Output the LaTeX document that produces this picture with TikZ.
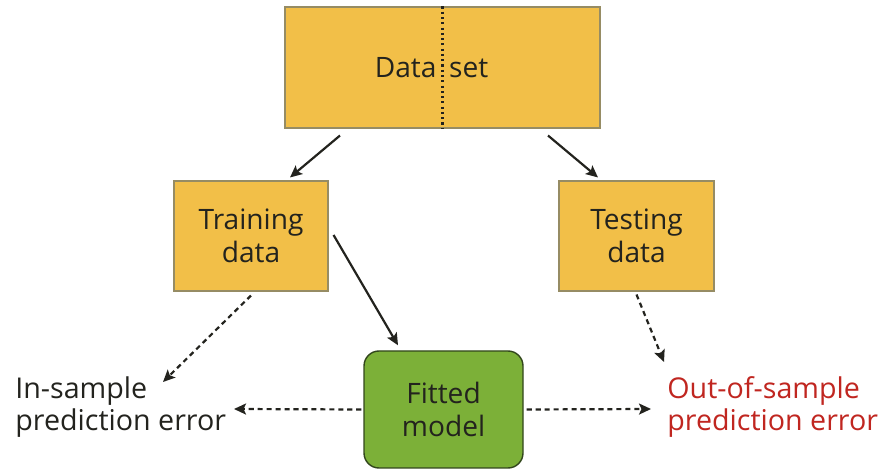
\documentclass[tikz,border=0pt]{standalone}
\usepackage{fontspec}
\setmainfont{Open Sans}
\usetikzlibrary{arrows.meta}
\definecolor{boxyellow}{RGB}{242,191,72}
\definecolor{boxedge}{RGB}{150,140,100}
\definecolor{fitgreen}{RGB}{124,176,56}
\definecolor{fitedge}{RGB}{50,70,28}
\definecolor{errred}{RGB}{192,38,32}
\definecolor{txt}{RGB}{35,35,30}

\begin{document}
\begin{tikzpicture}[
    databox/.style={draw=boxedge, fill=boxyellow, line width=0.6pt, text=txt, align=center,
        inner sep=0pt, font=\fontsize{16}{18.5}\selectfont},
    arr/.style={-{Stealth[length=2.4mm,width=2.2mm,inset=0.5mm]}, line width=1.25pt, color=txt},
    darr/.style={arr, dash pattern=on 2.9pt off 2.2pt},
    lbl/.style={align=left, anchor=west, inner sep=0pt, font=\fontsize{16.3}{18.5}\selectfont}
]
    \useasboundingbox (0,0) rectangle (17.68,9.42);

    % BOXES
    \node[databox, minimum width=6.3cm, minimum height=2.42cm] (data) at (8.85,8.07)
        {Data\hspace{0.45em}set\hspace*{0.44cm}};
    \draw[txt, line width=1.2pt, dash pattern=on 1.2pt off 1.8pt] (data.north) -- (data.south);
    \node[databox, minimum width=3.08cm, minimum height=2.2cm] (train) at (5.02,4.70) {Training\\data};
    \node[databox, minimum width=3.1cm, minimum height=2.2cm] (test) at (12.73,4.70) {Testing\\data};
    \node[databox, draw=fitedge, fill=fitgreen, line width=0.8pt, rounded corners=0.3cm,
        minimum width=3.18cm, minimum height=2.34cm] (fit) at (8.87,1.23) {Fitted\\model};

    % ERROR LABELS
    \node[lbl, text=txt] (insample) at (0.3,1.28) {In-sample\\prediction error};
    \node[lbl, text=errred] (outsample) at (13.34,1.28) {Out-of-sample\\prediction error};

    % ARROWS
    \draw[arr] ([xshift=-2.05cm,yshift=-0.14cm]data.south) -- ([xshift=0.78cm,yshift=0.06cm]train.north);
    \draw[arr] ([xshift=2.11cm,yshift=-0.14cm]data.south) -- ([xshift=-0.77cm,yshift=0.06cm]test.north);
    \draw[arr] ([xshift=0.1cm,yshift=0.02cm]train.east) -- ([xshift=-0.91cm,yshift=0.1cm]fit.north);
    \draw[darr] ([yshift=-0.08cm]train.south) -- ([xshift=2.96cm,yshift=0.5cm]insample.west);
    \draw[darr] ([yshift=-0.06cm]test.south) -- ([xshift=-0.06cm,yshift=0.9cm]outsample.west);
    \draw[darr] ([xshift=-0.04cm]fit.west) -- ([xshift=4.38cm,yshift=-0.04cm]insample.west);
    \draw[darr] ([xshift=0.06cm]fit.east) -- ([xshift=-0.32cm,yshift=-0.04cm]outsample.west);
\end{tikzpicture}
\end{document}
